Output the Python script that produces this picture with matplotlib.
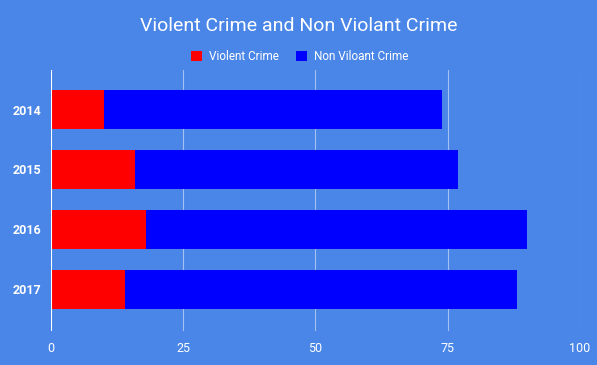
import matplotlib.pyplot as plt
import numpy as np

plt.rcParams['font.family'] = ['Roboto', 'DejaVu Sans']

years = ["2014", "2015", "2016", "2017"]
violent = [10, 16, 18, 14]
non_violent = [64, 61, 72, 74]
x_ticks = [0, 25, 50, 75, 100]

bg = "#4a86e8"

fig = plt.figure(figsize=(5.97, 3.65), dpi=100, facecolor=bg)
ax = fig.add_axes([0.0848, 0.0932, 0.8868, 0.715], facecolor=bg)

y = np.arange(len(years))
ax.barh(y, violent, height=0.65, color="#ff0000", label="Violent Crime", zorder=3)
ax.barh(y, non_violent, left=violent, height=0.65, color="#0000ff",
        label="Non Viloant Crime", zorder=3)

ax.set_xlim(0, 100)
ax.set_ylim(3.7, -0.66)
ax.set_xticks(x_ticks)
ax.set_xticklabels([str(t) for t in x_ticks], color="white", fontsize=9)
ax.set_yticks(y)
ax.set_yticklabels(years, color="white", fontsize=9, fontweight="bold")
ax.tick_params(axis="x", length=0, pad=8)
ax.tick_params(axis="y", length=0, pad=7)

for t in x_ticks[1:]:
    ax.axvline(t, color="#a3c0f1", lw=0.8, zorder=1)
ax.axvline(0, color="white", lw=1.5, zorder=4)

for s in ax.spines.values():
    s.set_visible(False)

fig.text(0.5, 0.93, "Violent Crime and Non Violant Crime", color="white",
         fontsize=14, ha="center", va="center")
leg = fig.legend(loc="center", bbox_to_anchor=(0.502, 0.845), ncol=2, frameon=False,
                 fontsize=8.5, handlelength=0.9, handleheight=0.9, columnspacing=1.5,
                 handletextpad=0.6)
for txt in leg.get_texts():
    txt.set_color("white")

fig.savefig("out.png", dpi=100, facecolor=bg)
